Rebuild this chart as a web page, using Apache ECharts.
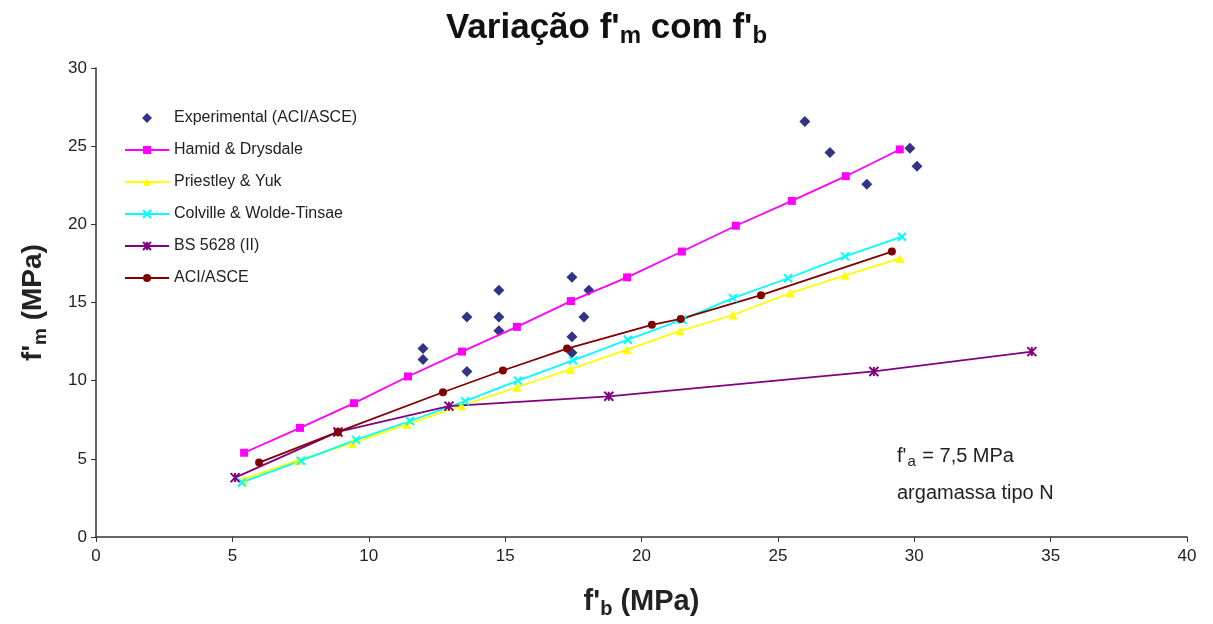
<!DOCTYPE html>
<html>
<head>
<meta charset="utf-8">
<script src="https://cdn.jsdelivr.net/npm/echarts@6/dist/echarts.min.js"></script>
<style>
html,body{margin:0;padding:0;background:#fff;}
#chart{width:1213px;height:624px;}
</style>
</head>
<body>
<div id="chart"></div>
<script>
// ---- data ----
var expX = [11.99, 11.99, 13.60, 13.60, 14.77, 14.77, 14.77, 17.45, 18.07, 17.89, 17.45, 17.45, 25.99, 26.91, 29.84, 30.10, 28.26];
var expY = [12.05, 11.35, 14.08, 10.59, 15.79, 14.08, 13.19, 16.61, 15.79, 14.08, 12.81, 11.79, 26.57, 24.60, 24.86, 23.72, 22.57];

var hamidX = [5.43, 7.48, 9.46, 11.44, 13.42, 15.43, 17.41, 19.47, 21.48, 23.46, 25.51, 27.49, 29.47];
var hamidY = [5.39, 6.98, 8.56, 10.27, 11.86, 13.44, 15.09, 16.61, 18.26, 19.91, 21.50, 23.08, 24.79];

var priestleyX = [5.4, 7.4, 9.4, 11.4, 13.4, 15.43, 17.38, 19.47, 21.41, 23.35, 25.44, 27.46, 29.47];
var priestleyY = [3.7, 4.9, 6.0, 7.2, 8.4, 9.58, 10.72, 11.98, 13.19, 14.20, 15.60, 16.74, 17.82];

var colvilleX = [5.35, 7.51, 9.53, 11.51, 13.53, 15.47, 17.49, 19.5, 21.5, 23.35, 25.37, 27.46, 29.55];
var colvilleY = [3.49, 4.88, 6.21, 7.42, 8.69, 10.0, 11.3, 12.62, 13.9, 15.28, 16.55, 17.95, 19.21];

var bsX = [5.1, 8.87, 12.94, 18.8, 28.52, 34.31];
var bsY = [3.8, 6.72, 8.37, 9.0, 10.59, 11.86];

var aciX = [5.98, 8.87, 12.72, 14.92, 17.27, 20.38, 21.44, 24.38, 29.18];
var aciY = [4.76, 6.72, 9.26, 10.65, 12.05, 13.57, 13.95, 15.47, 18.26];

var seriesNames = ['Experimental (ACI/ASCE)', 'Hamid & Drysdale', 'Priestley & Yuk', 'Colville & Wolde-Tinsae', 'BS 5628 (II)', 'ACI/ASCE'];

function pairs(xs, ys) { return xs.map(function (x, i) { return [x, ys[i]]; }); }

var FONT = '"Liberation Sans", Arial, sans-serif';
var crossPath = 'path://M0,0L10,10M10,0L0,10';
var starPath = 'path://M0,0L10,10M10,0L0,10M5,0L5,10';
var diamondPath = 'path://M5,0L10,5L5,10L0,5Z';

function lineSeries(name, xs, ys, color, symbol, size, extra) {
  var s = {
    name: name, type: 'line', data: pairs(xs, ys),
    symbol: symbol, symbolSize: size, showSymbol: true,
    lineStyle: { color: color, width: 1.8 },
    itemStyle: { color: color },
    emphasis: { disabled: true },
    animation: false
  };
  if (extra) { for (var k in extra) s[k] = extra[k]; }
  return s;
}

var legendData = seriesNames.map(function (n, i) {
  return i === 0 ? { name: n, icon: diamondPath } : { name: n };
});

var chart = echarts.init(document.getElementById('chart'));
chart.setOption({
  backgroundColor: '#fff',
  animation: false,
  title: {
    text: 'Variação f\'{sub|m} com f\'{sub|b}',
    left: 'center', top: 3,
    textStyle: {
      fontFamily: FONT, fontSize: 35, fontWeight: 'bold', color: '#111',
      rich: { sub: { fontFamily: FONT, fontSize: 24, fontWeight: 'bold', color: '#111', padding: [16, 0, 0, 0] } }
    }
  },
  grid: { left: 96, right: 26, top: 68, bottom: 83, containLabel: false },
  legend: {
    orient: 'vertical', left: 119, top: 105, itemGap: 16,
    itemWidth: 44, itemHeight: 10, symbolKeepAspect: true,
    textStyle: { fontFamily: FONT, fontSize: 16, color: '#222' },
    data: legendData
  },
  xAxis: {
    type: 'value', min: 0, max: 40, interval: 5,
    name: 'f\'{sub|b} (MPa)', nameLocation: 'middle', nameGap: 48,
    nameTextStyle: {
      fontFamily: FONT, fontSize: 29, fontWeight: 'bold', color: '#222',
      rich: { sub: { fontFamily: FONT, fontSize: 20, fontWeight: 'bold', color: '#222', padding: [14, 0, 0, 0] } }
    },
    axisLine: { lineStyle: { color: '#333', width: 1.5 } },
    axisTick: { show: true, length: 5, lineStyle: { color: '#333' } },
    axisLabel: { fontFamily: FONT, fontSize: 17, color: '#222', margin: 11 },
    splitLine: { show: false }
  },
  yAxis: {
    type: 'value', min: 0, max: 30, interval: 5,
    name: 'f\'{sub|m} (MPa)', nameLocation: 'middle', nameGap: 46, nameRotate: 90,
    nameTextStyle: {
      fontFamily: FONT, fontSize: 28, fontWeight: 'bold', color: '#222',
      rich: { sub: { fontFamily: FONT, fontSize: 19, fontWeight: 'bold', color: '#222', padding: [14, 0, 0, 0] } }
    },
    axisLine: { show: true, lineStyle: { color: '#333', width: 1.5 } },
    axisTick: { show: true, length: 5, lineStyle: { color: '#333' } },
    axisLabel: { fontFamily: FONT, fontSize: 17, color: '#222', margin: 9 },
    splitLine: { show: false }
  },
  graphic: [
    {
      type: 'text', left: 897, top: 438,
      style: {
        text: 'f\'{sub|a} = 7,5 MPa\nargamassa tipo N',
        font: '20px ' + FONT, fill: '#222', lineHeight: 37,
        rich: { sub: { fontSize: 15, fontFamily: FONT, fill: '#222', padding: [10, 1, 0, 1] } }
      }
    }
  ],
  series: [
    {
      name: seriesNames[0], type: 'scatter', data: pairs(expX, expY),
      symbol: 'diamond', symbolSize: 11,
      itemStyle: { color: '#000066' },
      emphasis: { disabled: true }, animation: false
    },
    lineSeries(seriesNames[1], hamidX, hamidY, '#FF00FF', 'rect', 8),
    lineSeries(seriesNames[2], priestleyX, priestleyY, '#FFFF00', 'triangle', 9),
    lineSeries(seriesNames[3], colvilleX, colvilleY, '#00FFFF', crossPath, 8, {
      itemStyle: { color: '#00FFFF', borderColor: '#00FFFF', borderWidth: 2 }
    }),
    lineSeries(seriesNames[4], bsX, bsY, '#800080', starPath, 9, {
      itemStyle: { color: '#800080', borderColor: '#800080', borderWidth: 2 }
    }),
    lineSeries(seriesNames[5], aciX, aciY, '#800000', 'circle', 8)
  ]
});
</script>
</body>
</html>
